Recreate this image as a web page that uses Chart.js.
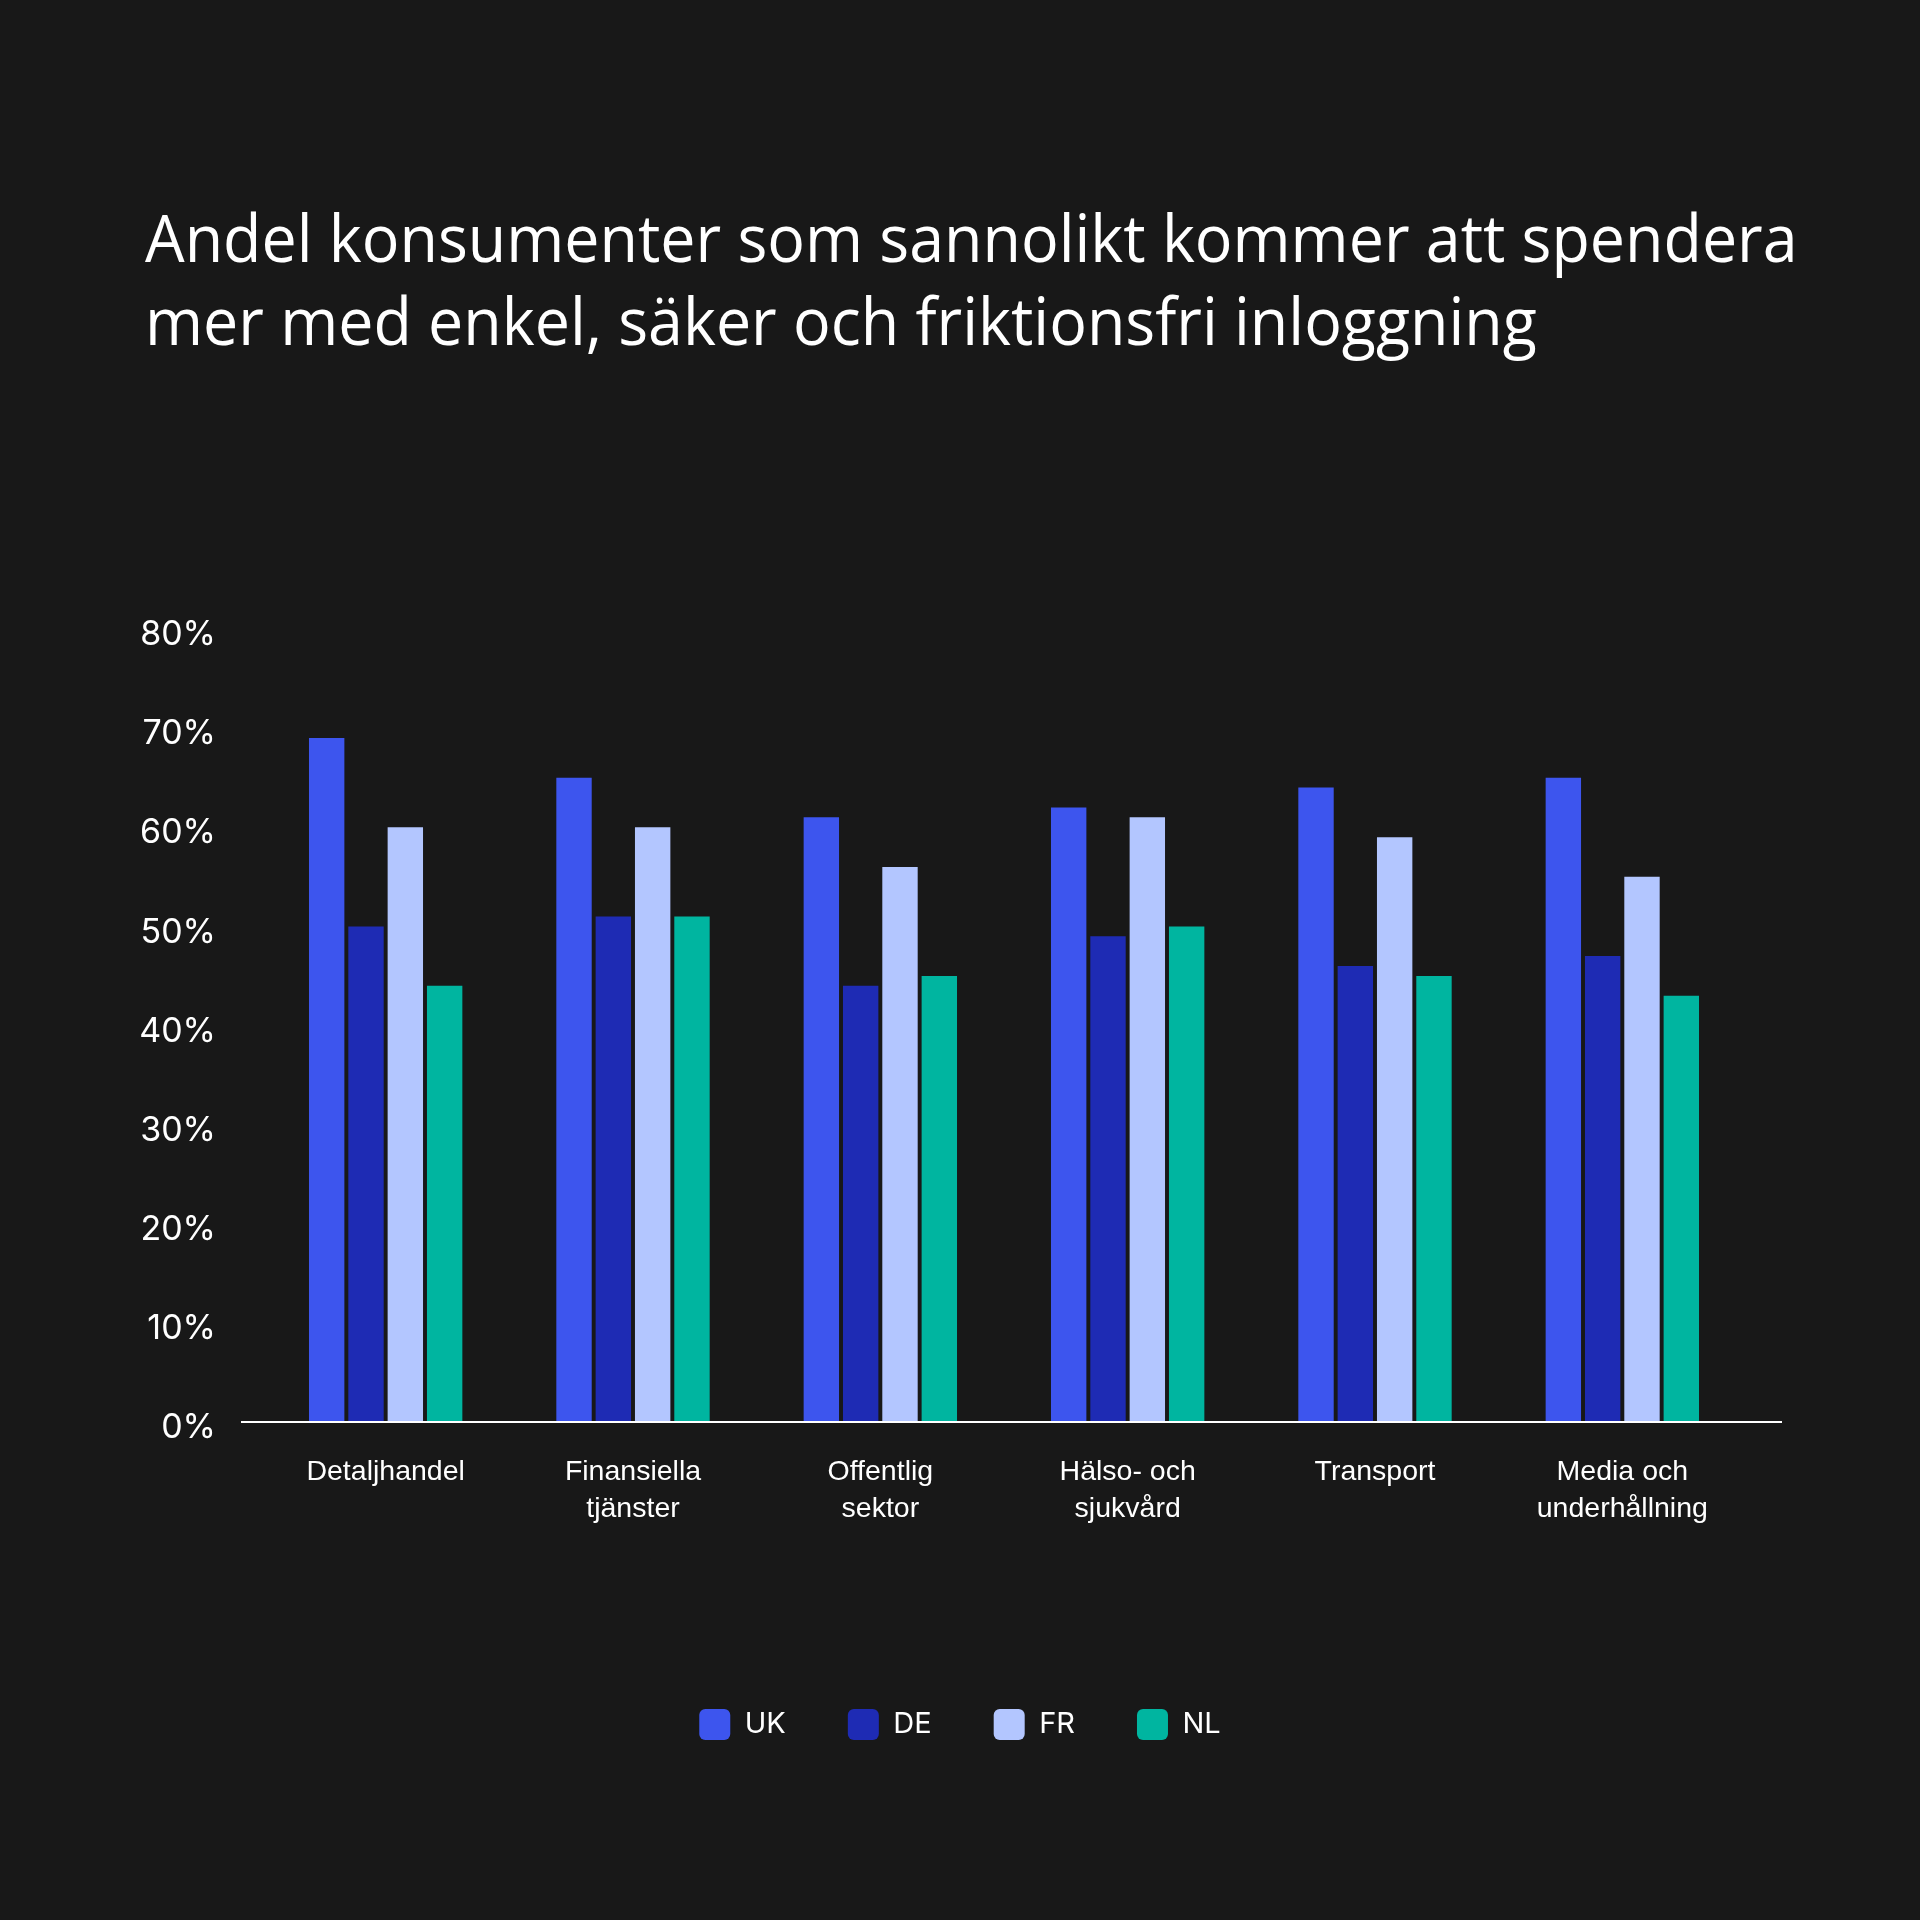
<!DOCTYPE html>
<html>
<head>
<meta charset="utf-8">
<script src="https://cdn.jsdelivr.net/npm/chart.js@4/dist/chart.umd.min.js"></script>
<style>
  html, body { margin: 0; padding: 0; background: #181818; }
  #wrap { position: relative; width: 1920px; height: 1920px; }
  h1 {
    position: absolute; left: 145px; top: 195px; margin: 0;
    font-family: 'Open Sans', sans-serif; font-weight: 500; font-size: 66px; line-height: 83px;
    color: #ffffff; transform: scaleX(0.95); transform-origin: left top; white-space: nowrap;
  }
</style>
</head>
<body>
<div id="wrap">
  <h1 class="title"></h1>
  <canvas class="bar-chart"></canvas>
</div>
<script>
const titleLines = [
  'Andel konsumenter som sannolikt kommer att spendera',
  'mer med enkel, säker och friktionsfri inloggning',
];

const categories = [
  'Detaljhandel',
  ['Finansiella', 'tjänster'],
  ['Offentlig', 'sektor'],
  ['Hälso- och', 'sjukvård'],
  'Transport',
  ['Media och', 'underhållning'],
];

const countries = ['UK', 'DE', 'FR', 'NL'];

const ukValues = [69, 65, 61, 62, 64, 65];
const deValues = [50, 51, 44, 49, 46, 47];
const frValues = [60, 60, 56, 61, 59, 55];
const nlValues = [44, 51, 45, 50, 45, 43];

const yTicks = [0, 10, 20, 30, 40, 50, 60, 70, 80];

const colors = ['#3d55ee', '#1e2bb4', '#b3c6ff', '#00b5a0'];

// white zero line, a bit wider than the plot area
const baseline = {
  id: 'baseline',
  afterDatasetsDraw(chart) {
    const { ctx, chartArea } = chart;
    const y = chart.scales.y.getPixelForValue(0);
    ctx.save();
    ctx.strokeStyle = '#ffffff';
    ctx.lineWidth = 2;
    ctx.beginPath();
    ctx.moveTo(chartArea.left - 21, y);
    ctx.lineTo(chartArea.right + 36, y);
    ctx.stroke();
    ctx.restore();
  },
};

const renderChart = () => {
  document.querySelector('.title').innerHTML = titleLines.join('<br>');
  const canvas = document.querySelector('.bar-chart');
  const values = [ukValues, deValues, frValues, nlValues];

  new Chart(canvas, {
    type: 'bar',
    data: {
      labels: categories,
      datasets: countries.map((name, i) => ({
        label: name,
        data: values[i],
        backgroundColor: colors[i],
        borderWidth: 0,
        barPercentage: 0.9,
        categoryPercentage: 0.636,
      })),
    },
    options: {
      responsive: true,
      maintainAspectRatio: false,
      animation: false,
      layout: { padding: { left: 100, right: 100, top: 629, bottom: 170 } },
      plugins: {
        legend: {
          position: 'bottom',
          labels: {
            color: '#ffffff',
            font: { family: 'Inter', size: 29 },
            boxWidth: 31,
            boxHeight: 31,
            useBorderRadius: true,
            borderRadius: 6,
            padding: 62,
          },
        },
        tooltip: { enabled: false },
      },
      scales: {
        x: {
          grid: { display: false },
          border: { display: false },
          ticks: {
            color: '#ffffff',
            font: { family: 'Liberation Sans', size: 28.5, lineHeight: 1.3 },
            padding: 24,
            maxRotation: 0,
            autoSkip: false,
          },
          afterFit(scale) { scale.height = 225; },
        },
        y: {
          min: 0,
          max: 80,
          grid: { display: false, drawTicks: false },
          border: { display: false },
          afterBuildTicks(scale) { scale.ticks = yTicks.map((v) => ({ value: v })); },
          afterFit(scale) { scale.width = 162; },
          ticks: {
            color: '#ffffff',
            font: { family: 'Inter', size: 34 },
            padding: 46,
            labelOffset: 6,
            callback: (v) => v + '%',
          },
        },
        // empty right axis, only keeps the legend centred on the page
        spacer: {
          position: 'right',
          grid: { display: false },
          border: { display: false },
          ticks: { display: false },
          afterFit(scale) { scale.width = 74; },
        },
      },
    },
    plugins: [baseline],
  });
};

renderChart();
</script>
</body>
</html>
